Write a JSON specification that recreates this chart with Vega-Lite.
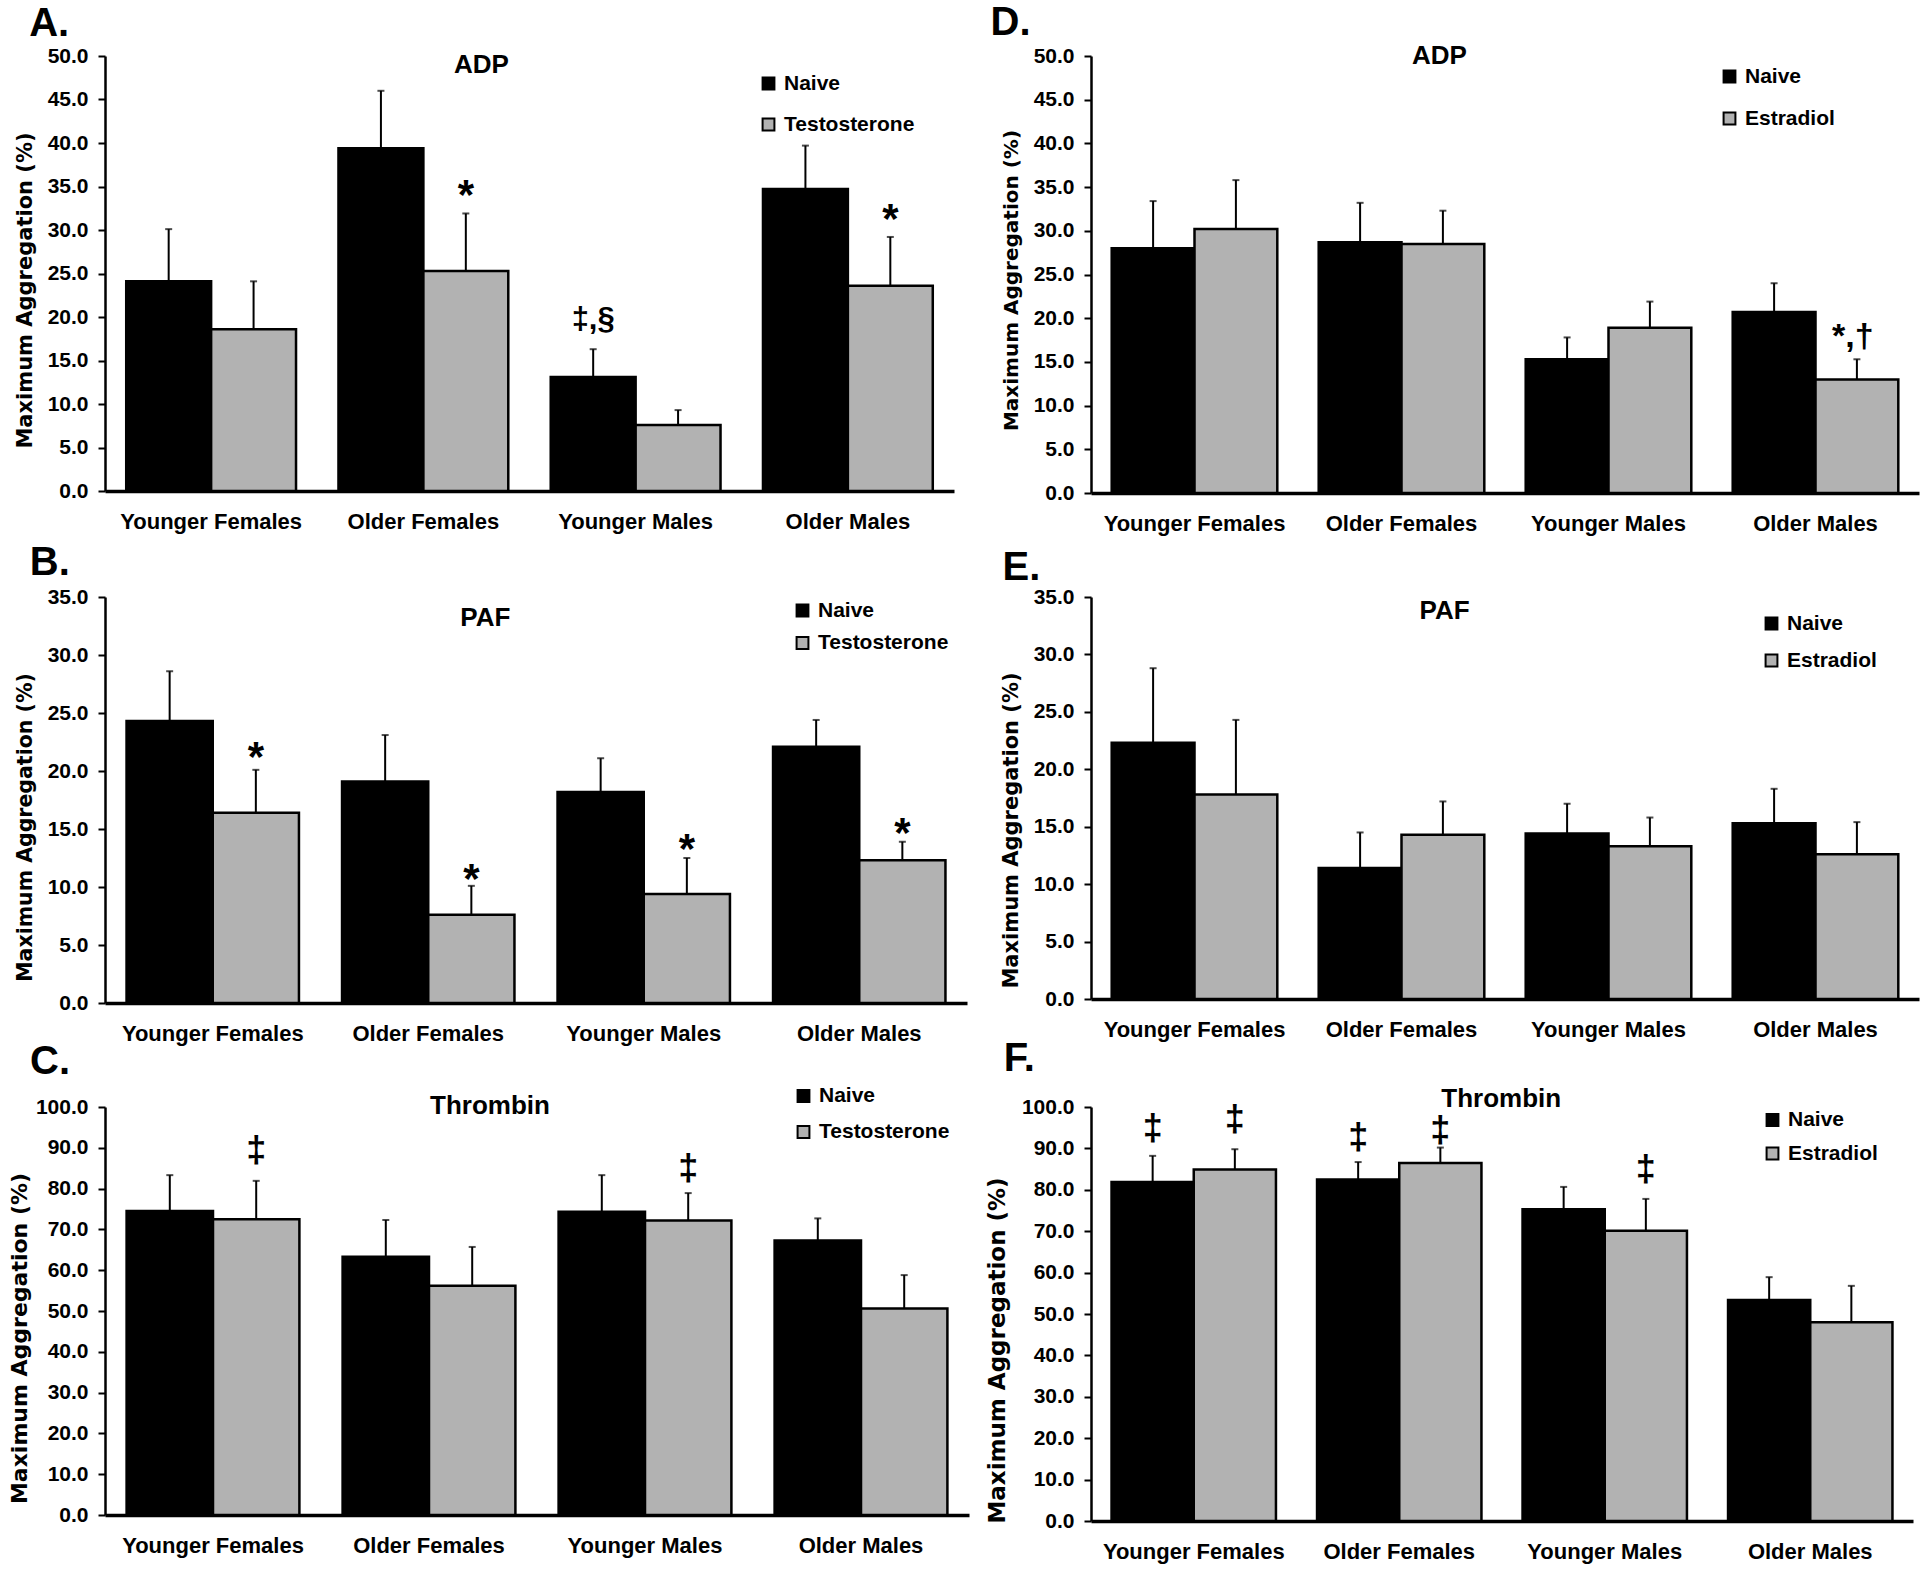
{
"$schema": "https://vega.github.io/schema/vega-lite/v6.json",
"background": "white",
"padding": {"left": 8, "top": 3, "right": 2, "bottom": 2},
"columns": 2,
"spacing": {"row": 104, "column": 122},
"bounds": "flush",
"align": "each",
"resolve": {"scale": {"color": "independent", "x": "independent", "y": "independent", "xOffset": "independent"}, "legend": {"color": "independent"}},
"config": {
  "view": {"stroke": null},
  "font": "Liberation Sans",
  "text": {"font": "Liberation Sans", "color": "#000", "fontWeight": "bold"},
  "axis": {"grid": false, "domainColor": "#000", "labelColor": "#000", "labelFont": "Liberation Sans", "labelFontWeight": "bold", "titleColor": "#000"},
  "axisX": {"domainWidth": 3.5, "ticks": false, "labelFontSize": 22, "labelPadding": 20, "labelAngle": 0, "labelLimit": 0},
  "axisY": {"domainWidth": 2.5, "tickColor": "#000", "tickWidth": 2, "tickSize": 7, "labelFontSize": 21, "labelPadding": 10, "titleFont": "DejaVu Sans", "titleFontWeight": "bold", "titlePadding": 12},
  "legend": {"title": null, "orient": "none", "symbolType": "square", "symbolSize": 140, "symbolStrokeColor": "#000", "symbolStrokeWidth": 2, "labelFont": "Liberation Sans", "labelFontWeight": "bold", "labelFontSize": 21, "labelColor": "#000", "labelOffset": 5, "padding": 0}
},
"concat": [
{
  "width": 849, "height": 435,
  "data": {"values": [
    {"grp": "Younger Females", "treat": "Naive", "val": 24.1, "hi": 30.1},
    {"grp": "Younger Females", "treat": "Testosterone", "val": 18.6, "hi": 24.1},
    {"grp": "Older Females", "treat": "Naive", "val": 39.4, "hi": 46.0},
    {"grp": "Older Females", "treat": "Testosterone", "val": 25.3, "hi": 31.9},
    {"grp": "Younger Males", "treat": "Naive", "val": 13.1, "hi": 16.3},
    {"grp": "Younger Males", "treat": "Testosterone", "val": 7.6, "hi": 9.3},
    {"grp": "Older Males", "treat": "Naive", "val": 34.7, "hi": 39.7},
    {"grp": "Older Males", "treat": "Testosterone", "val": 23.6, "hi": 29.2}
  ]},
  "layer": [
    {"mark": {"type": "bar", "stroke": "#000", "strokeWidth": 2.5},
     "encoding": {
       "x": {"field": "grp", "type": "nominal", "scale": {"domain": ["Younger Females", "Older Females", "Younger Males", "Older Males"], "paddingInner": 0.2, "paddingOuter": 0.1}, "axis": {"title": null}},
       "xOffset": {"field": "treat", "type": "nominal", "scale": {"domain": ["Naive", "Testosterone"], "paddingInner": 0, "paddingOuter": 0}},
       "y": {"field": "val", "type": "quantitative", "scale": {"domain": [0, 50], "nice": false}, "axis": {"values": [0, 5, 10, 15, 20, 25, 30, 35, 40, 45, 50], "format": ".1f", "title": "Maximum Aggregation (%)", "titleFontSize": 21, "titleY": 234}},
       "color": {"field": "treat", "type": "nominal", "scale": {"domain": ["Naive", "Testosterone"], "range": ["#000000", "#b2b2b2"]}, "legend": {"legendX": 653, "legendY": 17, "rowPadding": 19}}
     }},
    {"mark": {"type": "rule", "color": "#000", "strokeWidth": 2},
     "encoding": {"x": {"field": "grp", "type": "nominal"}, "xOffset": {"field": "treat", "type": "nominal"}, "y": {"field": "val", "type": "quantitative"}, "y2": {"field": "hi"}}},
    {"mark": {"type": "tick", "orient": "horizontal", "color": "#000", "size": 7, "thickness": 2},
     "encoding": {"x": {"field": "grp", "type": "nominal"}, "xOffset": {"field": "treat", "type": "nominal"}, "y": {"field": "hi", "type": "quantitative"}}},
    {"data": {"values": [
       {"grp": "Older Females", "treat": "Testosterone", "label": "*", "pos": 33.9},
       {"grp": "Older Males", "treat": "Testosterone", "label": "*", "pos": 31.1}
     ]},
     "mark": {"type": "text", "fontSize": 42, "baseline": "middle"},
     "encoding": {"x": {"field": "grp", "type": "nominal"}, "xOffset": {"field": "treat", "type": "nominal"}, "y": {"field": "pos", "type": "quantitative"}, "text": {"field": "label"}}},
    {"data": {"values": [
       {"grp": "Younger Males", "treat": "Naive", "label": "‡,§", "pos": 19.7}
     ]},
     "mark": {"type": "text", "fontSize": 31, "baseline": "middle"},
     "encoding": {"x": {"field": "grp", "type": "nominal"}, "xOffset": {"field": "treat", "type": "nominal"}, "y": {"field": "pos", "type": "quantitative"}, "text": {"field": "label"}}},
    {"data": {"values": [{"t": "ADP"}]},
     "mark": {"type": "text", "fontSize": 26, "baseline": "middle", "dx": 58, "dy": 9},
     "encoding": {"x": {"datum": "Older Females"}, "y": {"datum": 50}, "text": {"field": "t"}}},
    {"data": {"values": [{"t": "A."}]},
     "mark": {"type": "text", "fontSize": 40, "align": "left", "baseline": "alphabetic", "dx": -182, "dy": -20},
     "encoding": {"x": {"datum": "Younger Females"}, "y": {"datum": 50}, "text": {"field": "t"}}}
  ]
},
{
  "width": 828, "height": 437,
  "data": {"values": [
    {"grp": "Younger Females", "treat": "Naive", "val": 28.0, "hi": 33.4},
    {"grp": "Younger Females", "treat": "Estradiol", "val": 30.2, "hi": 35.8},
    {"grp": "Older Females", "treat": "Naive", "val": 28.7, "hi": 33.2},
    {"grp": "Older Females", "treat": "Estradiol", "val": 28.5, "hi": 32.3},
    {"grp": "Younger Males", "treat": "Naive", "val": 15.3, "hi": 17.8},
    {"grp": "Younger Males", "treat": "Estradiol", "val": 18.9, "hi": 21.9},
    {"grp": "Older Males", "treat": "Naive", "val": 20.7, "hi": 24.0},
    {"grp": "Older Males", "treat": "Estradiol", "val": 13.0, "hi": 15.3}
  ]},
  "layer": [
    {"mark": {"type": "bar", "stroke": "#000", "strokeWidth": 2.5},
     "encoding": {
       "x": {"field": "grp", "type": "nominal", "scale": {"domain": ["Younger Females", "Older Females", "Younger Males", "Older Males"], "paddingInner": 0.2, "paddingOuter": 0.1}, "axis": {"title": null}},
       "xOffset": {"field": "treat", "type": "nominal", "scale": {"domain": ["Naive", "Estradiol"], "paddingInner": 0, "paddingOuter": 0}},
       "y": {"field": "val", "type": "quantitative", "scale": {"domain": [0, 50], "nice": false}, "axis": {"values": [0, 5, 10, 15, 20, 25, 30, 35, 40, 45, 50], "format": ".1f", "title": "Maximum Aggregation (%)", "titleFontSize": 20, "titleY": 224}},
       "color": {"field": "treat", "type": "nominal", "scale": {"domain": ["Naive", "Estradiol"], "range": ["#000000", "#b2b2b2"]}, "legend": {"legendX": 628, "legendY": 10, "rowPadding": 20}}
     }},
    {"mark": {"type": "rule", "color": "#000", "strokeWidth": 2},
     "encoding": {"x": {"field": "grp", "type": "nominal"}, "xOffset": {"field": "treat", "type": "nominal"}, "y": {"field": "val", "type": "quantitative"}, "y2": {"field": "hi"}}},
    {"mark": {"type": "tick", "orient": "horizontal", "color": "#000", "size": 7, "thickness": 2},
     "encoding": {"x": {"field": "grp", "type": "nominal"}, "xOffset": {"field": "treat", "type": "nominal"}, "y": {"field": "hi", "type": "quantitative"}}},
    {"data": {"values": [
       {"grp": "Older Males", "treat": "Estradiol", "label": "*,†", "pos": 17.8}
     ]},
     "mark": {"type": "text", "fontSize": 34, "baseline": "middle", "dx": -4},
     "encoding": {"x": {"field": "grp", "type": "nominal"}, "xOffset": {"field": "treat", "type": "nominal"}, "y": {"field": "pos", "type": "quantitative"}, "text": {"field": "label"}}},
    {"data": {"values": [{"t": "ADP"}]},
     "mark": {"type": "text", "fontSize": 26, "baseline": "middle", "dx": 38, "dy": 0},
     "encoding": {"x": {"datum": "Older Females"}, "y": {"datum": 50}, "text": {"field": "t"}}},
    {"data": {"values": [{"t": "D."}]},
     "mark": {"type": "text", "fontSize": 40, "align": "left", "baseline": "alphabetic", "dx": -204, "dy": -21},
     "encoding": {"x": {"datum": "Younger Females"}, "y": {"datum": 50}, "text": {"field": "t"}}}
  ]
},
{
  "width": 862, "height": 406,
  "data": {"values": [
    {"grp": "Younger Females", "treat": "Naive", "val": 24.3, "hi": 28.6},
    {"grp": "Younger Females", "treat": "Testosterone", "val": 16.4, "hi": 20.1},
    {"grp": "Older Females", "treat": "Naive", "val": 19.1, "hi": 23.1},
    {"grp": "Older Females", "treat": "Testosterone", "val": 7.6, "hi": 10.1},
    {"grp": "Younger Males", "treat": "Naive", "val": 18.2, "hi": 21.1},
    {"grp": "Younger Males", "treat": "Testosterone", "val": 9.4, "hi": 12.5},
    {"grp": "Older Males", "treat": "Naive", "val": 22.1, "hi": 24.4},
    {"grp": "Older Males", "treat": "Testosterone", "val": 12.3, "hi": 13.9}
  ]},
  "layer": [
    {"mark": {"type": "bar", "stroke": "#000", "strokeWidth": 2.5},
     "encoding": {
       "x": {"field": "grp", "type": "nominal", "scale": {"domain": ["Younger Females", "Older Females", "Younger Males", "Older Males"], "paddingInner": 0.2, "paddingOuter": 0.1}, "axis": {"title": null}},
       "xOffset": {"field": "treat", "type": "nominal", "scale": {"domain": ["Naive", "Testosterone"], "paddingInner": 0, "paddingOuter": 0}},
       "y": {"field": "val", "type": "quantitative", "scale": {"domain": [0, 35], "nice": false}, "axis": {"values": [0, 5, 10, 15, 20, 25, 30, 35], "format": ".1f", "title": "Maximum Aggregation (%)", "titleFontSize": 20.5, "titleY": 230}},
       "color": {"field": "treat", "type": "nominal", "scale": {"domain": ["Naive", "Testosterone"], "range": ["#000000", "#b2b2b2"]}, "legend": {"legendX": 687, "legendY": 3, "rowPadding": 10.5}}
     }},
    {"mark": {"type": "rule", "color": "#000", "strokeWidth": 2},
     "encoding": {"x": {"field": "grp", "type": "nominal"}, "xOffset": {"field": "treat", "type": "nominal"}, "y": {"field": "val", "type": "quantitative"}, "y2": {"field": "hi"}}},
    {"mark": {"type": "tick", "orient": "horizontal", "color": "#000", "size": 7, "thickness": 2},
     "encoding": {"x": {"field": "grp", "type": "nominal"}, "xOffset": {"field": "treat", "type": "nominal"}, "y": {"field": "hi", "type": "quantitative"}}},
    {"data": {"values": [
       {"grp": "Younger Females", "treat": "Testosterone", "label": "*", "pos": 21.1},
       {"grp": "Older Females", "treat": "Testosterone", "label": "*", "pos": 10.6},
       {"grp": "Younger Males", "treat": "Testosterone", "label": "*", "pos": 13.2},
       {"grp": "Older Males", "treat": "Testosterone", "label": "*", "pos": 14.6}
     ]},
     "mark": {"type": "text", "fontSize": 42, "baseline": "middle"},
     "encoding": {"x": {"field": "grp", "type": "nominal"}, "xOffset": {"field": "treat", "type": "nominal"}, "y": {"field": "pos", "type": "quantitative"}, "text": {"field": "label"}}},
    {"data": {"values": [{"t": "PAF"}]},
     "mark": {"type": "text", "fontSize": 26, "baseline": "middle", "dx": 57, "dy": 21},
     "encoding": {"x": {"datum": "Older Females"}, "y": {"datum": 35}, "text": {"field": "t"}}},
    {"data": {"values": [{"t": "B."}]},
     "mark": {"type": "text", "fontSize": 40, "align": "left", "baseline": "alphabetic", "dx": -183, "dy": -22},
     "encoding": {"x": {"datum": "Younger Females"}, "y": {"datum": 35}, "text": {"field": "t"}}}
  ]
},
{
  "width": 828, "height": 402,
  "data": {"values": [
    {"grp": "Younger Females", "treat": "Naive", "val": 22.3, "hi": 28.8},
    {"grp": "Younger Females", "treat": "Estradiol", "val": 17.8, "hi": 24.3},
    {"grp": "Older Females", "treat": "Naive", "val": 11.4, "hi": 14.5},
    {"grp": "Older Females", "treat": "Estradiol", "val": 14.3, "hi": 17.2},
    {"grp": "Younger Males", "treat": "Naive", "val": 14.4, "hi": 17.0},
    {"grp": "Younger Males", "treat": "Estradiol", "val": 13.3, "hi": 15.8},
    {"grp": "Older Males", "treat": "Naive", "val": 15.3, "hi": 18.3},
    {"grp": "Older Males", "treat": "Estradiol", "val": 12.6, "hi": 15.4}
  ]},
  "layer": [
    {"mark": {"type": "bar", "stroke": "#000", "strokeWidth": 2.5},
     "encoding": {
       "x": {"field": "grp", "type": "nominal", "scale": {"domain": ["Younger Females", "Older Females", "Younger Males", "Older Males"], "paddingInner": 0.2, "paddingOuter": 0.1}, "axis": {"title": null}},
       "xOffset": {"field": "treat", "type": "nominal", "scale": {"domain": ["Naive", "Estradiol"], "paddingInner": 0, "paddingOuter": 0}},
       "y": {"field": "val", "type": "quantitative", "scale": {"domain": [0, 35], "nice": false}, "axis": {"values": [0, 5, 10, 15, 20, 25, 30, 35], "format": ".1f", "title": "Maximum Aggregation (%)", "titleFontSize": 21, "titleY": 233}},
       "color": {"field": "treat", "type": "nominal", "scale": {"domain": ["Naive", "Estradiol"], "range": ["#000000", "#b2b2b2"]}, "legend": {"legendX": 670, "legendY": 16, "rowPadding": 15}}
     }},
    {"mark": {"type": "rule", "color": "#000", "strokeWidth": 2},
     "encoding": {"x": {"field": "grp", "type": "nominal"}, "xOffset": {"field": "treat", "type": "nominal"}, "y": {"field": "val", "type": "quantitative"}, "y2": {"field": "hi"}}},
    {"mark": {"type": "tick", "orient": "horizontal", "color": "#000", "size": 7, "thickness": 2},
     "encoding": {"x": {"field": "grp", "type": "nominal"}, "xOffset": {"field": "treat", "type": "nominal"}, "y": {"field": "hi", "type": "quantitative"}}},
    {"data": {"values": [{"t": "PAF"}]},
     "mark": {"type": "text", "fontSize": 26, "baseline": "middle", "dx": 43, "dy": 14},
     "encoding": {"x": {"datum": "Older Females"}, "y": {"datum": 35}, "text": {"field": "t"}}},
    {"data": {"values": [{"t": "E."}]},
     "mark": {"type": "text", "fontSize": 40, "align": "left", "baseline": "alphabetic", "dx": -192, "dy": -17},
     "encoding": {"x": {"datum": "Younger Females"}, "y": {"datum": 35}, "text": {"field": "t"}}}
  ]
},
{
  "width": 864, "height": 408,
  "data": {"values": [
    {"grp": "Younger Females", "treat": "Naive", "val": 74.5, "hi": 83.3},
    {"grp": "Younger Females", "treat": "Testosterone", "val": 72.5, "hi": 81.9},
    {"grp": "Older Females", "treat": "Naive", "val": 63.3, "hi": 72.3},
    {"grp": "Older Females", "treat": "Testosterone", "val": 56.2, "hi": 65.7},
    {"grp": "Younger Males", "treat": "Naive", "val": 74.3, "hi": 83.3},
    {"grp": "Younger Males", "treat": "Testosterone", "val": 72.2, "hi": 78.9},
    {"grp": "Older Males", "treat": "Naive", "val": 67.3, "hi": 72.7},
    {"grp": "Older Males", "treat": "Testosterone", "val": 50.6, "hi": 58.8}
  ]},
  "layer": [
    {"mark": {"type": "bar", "stroke": "#000", "strokeWidth": 2.5},
     "encoding": {
       "x": {"field": "grp", "type": "nominal", "scale": {"domain": ["Younger Females", "Older Females", "Younger Males", "Older Males"], "paddingInner": 0.2, "paddingOuter": 0.1}, "axis": {"title": null}},
       "xOffset": {"field": "treat", "type": "nominal", "scale": {"domain": ["Naive", "Testosterone"], "paddingInner": 0, "paddingOuter": 0}},
       "y": {"field": "val", "type": "quantitative", "scale": {"domain": [0, 100], "nice": false}, "axis": {"values": [0, 10, 20, 30, 40, 50, 60, 70, 80, 90, 100], "format": ".1f", "title": "Maximum Aggregation (%)", "titleFontSize": 22, "titleY": 231, "titlePadding": 4}},
       "color": {"field": "treat", "type": "nominal", "scale": {"domain": ["Naive", "Testosterone"], "range": ["#000000", "#b2b2b2"]}, "legend": {"legendX": 688, "legendY": -21.5, "rowPadding": 14}}
     }},
    {"mark": {"type": "rule", "color": "#000", "strokeWidth": 2},
     "encoding": {"x": {"field": "grp", "type": "nominal"}, "xOffset": {"field": "treat", "type": "nominal"}, "y": {"field": "val", "type": "quantitative"}, "y2": {"field": "hi"}}},
    {"mark": {"type": "tick", "orient": "horizontal", "color": "#000", "size": 7, "thickness": 2},
     "encoding": {"x": {"field": "grp", "type": "nominal"}, "xOffset": {"field": "treat", "type": "nominal"}, "y": {"field": "hi", "type": "quantitative"}}},
    {"data": {"values": [
       {"grp": "Younger Females", "treat": "Testosterone", "label": "‡", "pos": 89.2},
       {"grp": "Younger Males", "treat": "Testosterone", "label": "‡", "pos": 84.7}
     ]},
     "mark": {"type": "text", "fontSize": 36, "baseline": "middle"},
     "encoding": {"x": {"field": "grp", "type": "nominal"}, "xOffset": {"field": "treat", "type": "nominal"}, "y": {"field": "pos", "type": "quantitative"}, "text": {"field": "label"}}},
    {"data": {"values": [{"t": "Thrombin"}]},
     "mark": {"type": "text", "fontSize": 26, "baseline": "middle", "dx": 61, "dy": -1},
     "encoding": {"x": {"datum": "Older Females"}, "y": {"datum": 100}, "text": {"field": "t"}}},
    {"data": {"values": [{"t": "C."}]},
     "mark": {"type": "text", "fontSize": 40, "align": "left", "baseline": "alphabetic", "dx": -183, "dy": -33.5},
     "encoding": {"x": {"datum": "Younger Females"}, "y": {"datum": 100}, "text": {"field": "t"}}}
  ]
},
{
  "width": 822, "height": 414,
  "data": {"values": [
    {"grp": "Younger Females", "treat": "Naive", "val": 81.9, "hi": 88.2},
    {"grp": "Younger Females", "treat": "Estradiol", "val": 84.9, "hi": 89.8},
    {"grp": "Older Females", "treat": "Naive", "val": 82.5, "hi": 86.7},
    {"grp": "Older Females", "treat": "Estradiol", "val": 86.5, "hi": 90.2},
    {"grp": "Younger Males", "treat": "Naive", "val": 75.3, "hi": 80.7},
    {"grp": "Younger Males", "treat": "Estradiol", "val": 70.1, "hi": 77.8},
    {"grp": "Older Males", "treat": "Naive", "val": 53.4, "hi": 58.9},
    {"grp": "Older Males", "treat": "Estradiol", "val": 48.0, "hi": 56.8}
  ]},
  "layer": [
    {"mark": {"type": "bar", "stroke": "#000", "strokeWidth": 2.5},
     "encoding": {
       "x": {"field": "grp", "type": "nominal", "scale": {"domain": ["Younger Females", "Older Females", "Younger Males", "Older Males"], "paddingInner": 0.2, "paddingOuter": 0.1}, "axis": {"title": null}},
       "xOffset": {"field": "treat", "type": "nominal", "scale": {"domain": ["Naive", "Estradiol"], "paddingInner": 0, "paddingOuter": 0}},
       "y": {"field": "val", "type": "quantitative", "scale": {"domain": [0, 100], "nice": false}, "axis": {"values": [0, 10, 20, 30, 40, 50, 60, 70, 80, 90, 100], "format": ".1f", "title": "Maximum Aggregation (%)", "titleFontSize": 23, "titleY": 243}},
       "color": {"field": "treat", "type": "nominal", "scale": {"domain": ["Naive", "Estradiol"], "range": ["#000000", "#b2b2b2"]}, "legend": {"legendX": 671, "legendY": 2.5, "rowPadding": 11.5}}
     }},
    {"mark": {"type": "rule", "color": "#000", "strokeWidth": 2},
     "encoding": {"x": {"field": "grp", "type": "nominal"}, "xOffset": {"field": "treat", "type": "nominal"}, "y": {"field": "val", "type": "quantitative"}, "y2": {"field": "hi"}}},
    {"mark": {"type": "tick", "orient": "horizontal", "color": "#000", "size": 7, "thickness": 2},
     "encoding": {"x": {"field": "grp", "type": "nominal"}, "xOffset": {"field": "treat", "type": "nominal"}, "y": {"field": "hi", "type": "quantitative"}}},
    {"data": {"values": [
       {"grp": "Younger Females", "treat": "Naive", "label": "‡", "pos": 94.6},
       {"grp": "Younger Females", "treat": "Estradiol", "label": "‡", "pos": 96.8},
       {"grp": "Older Females", "treat": "Naive", "label": "‡", "pos": 92.5},
       {"grp": "Older Females", "treat": "Estradiol", "label": "‡", "pos": 94.1},
       {"grp": "Younger Males", "treat": "Estradiol", "label": "‡", "pos": 84.9}
     ]},
     "mark": {"type": "text", "fontSize": 36, "baseline": "middle"},
     "encoding": {"x": {"field": "grp", "type": "nominal"}, "xOffset": {"field": "treat", "type": "nominal"}, "y": {"field": "pos", "type": "quantitative"}, "text": {"field": "label"}}},
    {"data": {"values": [{"t": "Thrombin"}]},
     "mark": {"type": "text", "fontSize": 26, "baseline": "middle", "dx": 102, "dy": -8.5},
     "encoding": {"x": {"datum": "Older Females"}, "y": {"datum": 100}, "text": {"field": "t"}}},
    {"data": {"values": [{"t": "F."}]},
     "mark": {"type": "text", "fontSize": 40, "align": "left", "baseline": "alphabetic", "dx": -190, "dy": -36.5},
     "encoding": {"x": {"datum": "Younger Females"}, "y": {"datum": 100}, "text": {"field": "t"}}}
  ]
}
]
}
